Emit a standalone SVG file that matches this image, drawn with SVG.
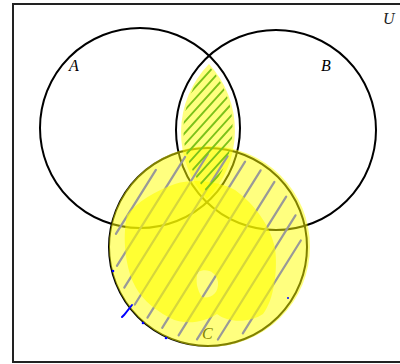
<svg xmlns="http://www.w3.org/2000/svg" width="400" height="364" viewBox="0 0 400 364">
<style>
.set{fill:none;stroke:#000;stroke-width:2}
.lbl{font-family:"Liberation Serif","DejaVu Serif",serif;font-style:italic;font-size:16px}
.hl{fill:#ffff00;opacity:0.5}
.grey line{stroke:#999;stroke-width:2.2;stroke-linecap:round}
.green line{stroke:#7cc21a;stroke-width:1.9;stroke-linecap:round}
.blue{stroke:#0000ff;stroke-width:2;fill:none;stroke-linecap:round}
</style>
<defs>
<clipPath id="lensClip"><path d="M209 66 A93 93 0 0 1 207 192 A93 93 0 0 1 209 66 Z"/></clipPath>
</defs>
<rect id="universe" x="13" y="4" width="400" height="358" fill="#fff" stroke="#222" stroke-width="2"/>
<g id="setA"><circle class="set" cx="140" cy="128" r="100"/><text class="lbl" x="69" y="71">A</text></g>
<g id="setB"><circle class="set" cx="276" cy="130" r="100"/><text class="lbl" x="321" y="71">B</text></g>
<g id="setC"><circle class="set" cx="208" cy="247" r="99"/><text class="lbl" x="202" y="339">C</text></g>
<text id="labelU" class="lbl" x="383" y="24" fill="#222">U</text>
<g id="highlight">
<circle class="hl" cx="209.5" cy="246.5" r="100.5"/>
<path class="hl" d="M209 64 A98 98 0 0 1 207 199 A98 98 0 0 1 209 64 Z"/>
</g>
<g id="hatchC" class="grey">
<line x1="115.9" y1="233.9" x2="155.9" y2="169.9"/>
<line x1="116.9" y1="265.9" x2="185.1" y2="156.9"/>
<line x1="124.3" y1="287.6" x2="207.9" y2="154.0"/>
<line x1="134.8" y1="304.5" x2="227.6" y2="156.1"/>
<line x1="147.5" y1="317.7" x2="245.1" y2="161.7"/>
<line x1="162.2" y1="327.9" x2="260.6" y2="170.3"/>
<line x1="178.6" y1="335.3" x2="274.4" y2="181.9"/>
<line x1="197.0" y1="339.3" x2="286.2" y2="196.7"/>
<line x1="217.9" y1="339.5" x2="295.5" y2="215.3"/>
<line x1="242.8" y1="333.3" x2="300.8" y2="240.5"/>
</g>
<path id="brightBlob" fill="#ffff00" opacity="0.6" fill-rule="evenodd" d="M127,215 C122,240 126,265 133,282 C140,297 150,307 170,318 C185,326 205,322 217,314 C228,323 250,323 263,314 C274,300 278,270 275,248 C271,228 256,205 235,190 C220,182 195,178 175,184 C155,191 137,202 127,215 Z M198,272 C206,268 216,271 218,282 C219,294 210,299 202,297 C197,290 195,280 198,272 Z"/>
<g id="hatchLens" class="green" clip-path="url(#lensClip)">
<line x1="172" y1="113" x2="244" y2="33"/>
<line x1="172" y1="124.4" x2="244" y2="44.4"/>
<line x1="172" y1="135.8" x2="244" y2="55.8"/>
<line x1="172" y1="147.2" x2="244" y2="67.2"/>
<line x1="172" y1="158.6" x2="244" y2="78.6"/>
<line x1="172" y1="170" x2="244" y2="90"/>
<line x1="172" y1="181.4" x2="244" y2="101.4"/>
<line x1="172" y1="192.8" x2="244" y2="112.8"/>
<line x1="172" y1="204.2" x2="244" y2="124.2"/>
<line x1="172" y1="215.6" x2="244" y2="135.6"/>
<line x1="172" y1="227" x2="244" y2="147"/>
</g>
<g id="blueMarks">
<path class="blue" d="M122,317 L124,315 L132,305"/>
<circle cx="113" cy="271" r="1.3" fill="#00f"/>
<circle cx="143" cy="323" r="1.3" fill="#00f"/>
<circle cx="166" cy="338" r="1.3" fill="#00f"/>
<circle cx="288" cy="298" r="1" fill="#00f"/>
</g>
</svg>
